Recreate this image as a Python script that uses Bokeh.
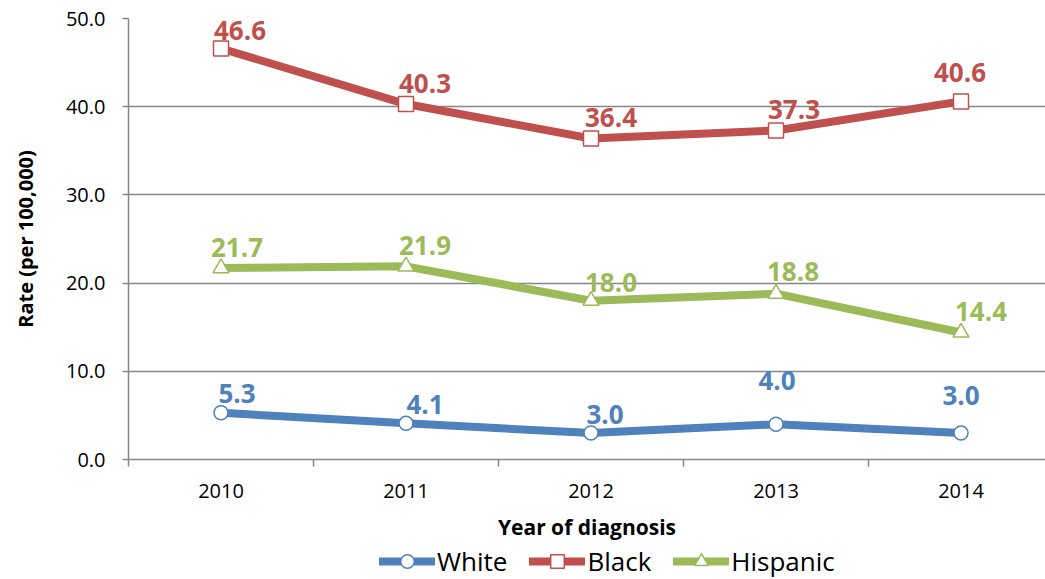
from bokeh.plotting import figure
from bokeh.layouts import column
from bokeh.models import (Range1d, FixedTicker, PrintfTickFormatter, Legend, LegendItem,
                          ColumnDataSource)
from bokeh.core.properties import value
from bokeh.embed import file_html
from bokeh.resources import INLINE

years = ["2010", "2011", "2012", "2013", "2014"]
white = [5.3, 4.1, 3.0, 4.0, 3.0]
black = [46.6, 40.3, 36.4, 37.3, 40.6]
hispanic = [21.7, 21.9, 18.0, 18.8, 14.4]
y_ticks = [0, 10, 20, 30, 40, 50]

# label offsets (screen px) for data labels
white_dx = [16, 19, 14, 1, 0]
white_dy = [-19, -19, -19, -44, -38]
black_dx = [19, 19, 20, 18, -1]
black_dy = [-18, -21, -21, -21, -29]
hisp_dx = [16, 19, 20, 17, 20]
hisp_dy = [-21, -21, -18, -22, -21]

FONT = "Open Sans"
GRAY = "#868686"
xs = list(range(len(years)))

fig = figure(frame_width=917, frame_height=441, output_backend="svg", toolbar_location=None,
             x_range=Range1d(-0.5, -0.5 + 917 / 185.0), y_range=Range1d(0, 50),
             min_border_left=128, min_border_right=0, min_border_top=18, min_border_bottom=0)
fig.outline_line_color = None
fig.background_fill_color = "white"
fig.border_fill_color = "white"

fig.xgrid.grid_line_color = None
fig.ygrid.grid_line_color = GRAY
fig.ygrid.grid_line_width = 1.3
fig.ygrid.ticker = FixedTicker(ticks=y_ticks)

# x axis
fig.xaxis.ticker = FixedTicker(ticks=xs, minor_ticks=[i - 0.5 for i in xs])
fig.xaxis.major_label_overrides = {i: y for i, y in zip(xs, years)}
fig.xaxis.major_tick_out = 0
fig.xaxis.major_tick_in = 0
fig.xaxis.minor_tick_out = 7
fig.xaxis.minor_tick_in = 0
fig.xaxis.minor_tick_line_color = GRAY
fig.xaxis.minor_tick_line_width = 1.5
fig.xaxis.axis_line_color = GRAY
fig.xaxis.axis_line_width = 1.5
fig.xaxis.major_label_text_font = FONT
fig.xaxis.major_label_text_font_size = "20px"
fig.xaxis.major_label_text_color = "black"
fig.xaxis.major_label_standoff = 17
fig.xaxis.axis_label = "Year of diagnosis"
fig.xaxis.axis_label_text_font = FONT
fig.xaxis.axis_label_text_font_style = "bold"
fig.xaxis.axis_label_text_font_size = "21px"
fig.xaxis.axis_label_text_color = "black"
fig.xaxis.axis_label_standoff = 12

# y axis
fig.yaxis.ticker = FixedTicker(ticks=y_ticks)
fig.yaxis.formatter = PrintfTickFormatter(format="%.1f")
fig.yaxis.major_tick_out = 6
fig.yaxis.major_tick_in = 0
fig.yaxis.minor_tick_out = 0
fig.yaxis.minor_tick_in = 0
fig.yaxis.major_tick_line_color = GRAY
fig.yaxis.major_tick_line_width = 1.5
fig.yaxis.axis_line_color = GRAY
fig.yaxis.axis_line_width = 1.5
fig.yaxis.major_label_text_font = FONT
fig.yaxis.major_label_text_font_size = "20px"
fig.yaxis.major_label_text_color = "black"
fig.yaxis.major_label_standoff = 17
fig.yaxis.axis_label = "Rate (per 100,000)"
fig.yaxis.axis_label_text_font = FONT
fig.yaxis.axis_label_text_font_style = "bold"
fig.yaxis.axis_label_text_font_size = "20px"
fig.yaxis.axis_label_text_color = "black"
fig.yaxis.axis_label_standoff = 24

series = [
    ("White", white, "#4F81BD", "circle", 14, white_dx, white_dy),
    ("Black", black, "#C0504D", "square", 15, black_dx, black_dy),
    ("Hispanic", hispanic, "#9BBB59", "triangle", 16, hisp_dx, hisp_dy),
]

# small figure that only carries the legend
lf = figure(width=1045, height=36, output_backend="svg", toolbar_location=None,
            x_range=Range1d(0, 1), y_range=Range1d(0, 1), min_border=0)
lf.axis.visible = False
lf.grid.visible = False
lf.outline_line_color = None
lf.background_fill_color = "white"
lf.border_fill_color = "white"

items = []
for name, vals, color, marker, size, dx, dy in series:
    src = ColumnDataSource(dict(x=xs, y=vals, lab=["%.1f" % v for v in vals], dx=dx, dy=dy))
    fig.line("x", "y", source=src, line_color=color, line_width=8, line_cap="round",
             line_join="round")
    fig.scatter("x", "y", source=src, marker=marker, size=size, fill_color="white",
                line_color=color, line_width=1.5)
    fig.text("x", "y", text="lab", source=src, x_offset="dx", y_offset="dy",
             text_font=value(FONT), text_font_style="bold", text_font_size="26px",
             text_color=color, text_align="center", text_baseline="middle")
    # legend proxies (kept outside the visible range)
    lr = lf.line([-10, -9], [-10, -10], line_color=color, line_width=8, line_cap="round")
    sr = lf.scatter([-10], [-10], marker=marker, size=size, fill_color="white",
                    line_color=color, line_width=1.5)
    items.append(LegendItem(label=name, renderers=[lr, sr]))

legend = Legend(items=items, orientation="horizontal", location=(251, 0),
                label_text_font=FONT, label_text_font_size="26px", label_text_color="black",
                glyph_width=56, glyph_height=34, label_height=30, label_standoff=2,
                spacing=22, padding=0, margin=0, border_line_color=None,
                background_fill_alpha=0)
lf.add_layout(legend, "center")

p = column(fig, lf, spacing=0)

open("out.html", "w").write(file_html(p, INLINE))
